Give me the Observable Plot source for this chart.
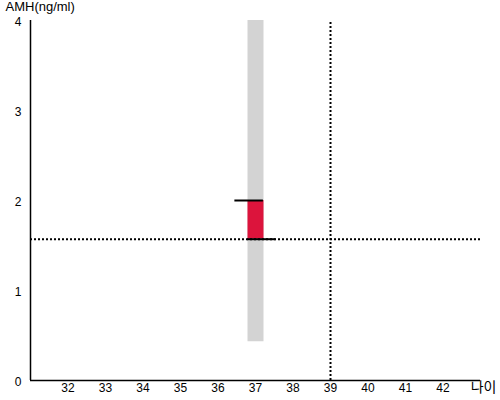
<!DOCTYPE html>
<html><head><meta charset="utf-8">
<script src="https://cdn.jsdelivr.net/npm/d3@7"></script>
<script src="https://cdn.jsdelivr.net/npm/@observablehq/plot@0.6"></script>
<style>body{margin:0;background:#fff;font-family:"Liberation Sans",Arial,sans-serif}</style>
</head><body><div id="chart"></div>
<script>
const xTicks = [32,33,34,35,36,37,38,39,40,41,42];
const yTicks = [0,1,2,3,4];
const ages = [37];
const rangeLow = [0.43];
const rangeHigh = [4];
const valueLow = [1.57];
const valueHigh = [2.0];
const refAge = [39];
const refValue = [1.57];

const data = ages.map((a,i)=>({age:a, lo:rangeLow[i], hi:rangeHigh[i], vlo:valueLow[i], vhi:valueHigh[i]}));

const chart = Plot.plot({
  width: 500, height: 400,
  marginLeft: 30, marginRight: 20, marginTop: 20, marginBottom: 20,
  style: {fontFamily: '"Liberation Sans", Arial, sans-serif', fontSize: "11px", color: "#000"},
  x: {domain: [31, 43], label: null},
  y: {domain: [0, 4], label: null},
  marks: [
    Plot.axisX({ticks: xTicks, tickSize: 0, tickPadding: 3, tickFormat: "d", label: null, fontSize: 12}),
    Plot.axisY({ticks: yTicks, tickSize: 0, tickPadding: 9, tickFormat: "d", label: null, fontSize: 12, dy: 2}),
    Plot.ruleX(data, {x: "age", y1: "lo", y2: "hi", stroke: "#d3d3d3", strokeWidth: 16}),
    Plot.ruleX(data, {x: "age", y1: "vlo", y2: "vhi", stroke: "#dc143c", strokeWidth: 16}),
    Plot.ruleY(refValue, {y: d => d, x1: 31, x2: 43, stroke: "#000", strokeWidth: 2, strokeDasharray: "2,2"}),
    Plot.ruleX(refAge, {x: d => d, y1: 0, y2: 4, stroke: "#000", strokeWidth: 2, strokeDasharray: "2,2"}),
    Plot.ruleY(data, {y: "vhi", x1: d => d.age - 0.55, x2: d => d.age + 0.21, stroke: "#000", strokeWidth: 2}),
    Plot.ruleY(data, {y: "vlo", x1: d => d.age - 0.21, x2: d => d.age + 0.55, stroke: "#000", strokeWidth: 2}),
    Plot.ruleX([31], {y1: 0, y2: 4, stroke: "#000", strokeWidth: 1.5}),
    Plot.ruleY([0], {x1: 31, x2: 43, stroke: "#000", strokeWidth: 1.5}),
    Plot.text(["AMH(ng/ml)"], {frameAnchor: "top-left", dx: -25, dy: -10, textAnchor: "start", lineAnchor: "bottom", fontSize: 13}),
    Plot.text(["나이"], {frameAnchor: "bottom-right", dx: 16, dy: 11, textAnchor: "end", fontSize: 14, fontFamily: '"Noto Sans CJK KR", sans-serif'})
  ]
});
document.getElementById("chart").appendChild(chart);
</script></body></html>
